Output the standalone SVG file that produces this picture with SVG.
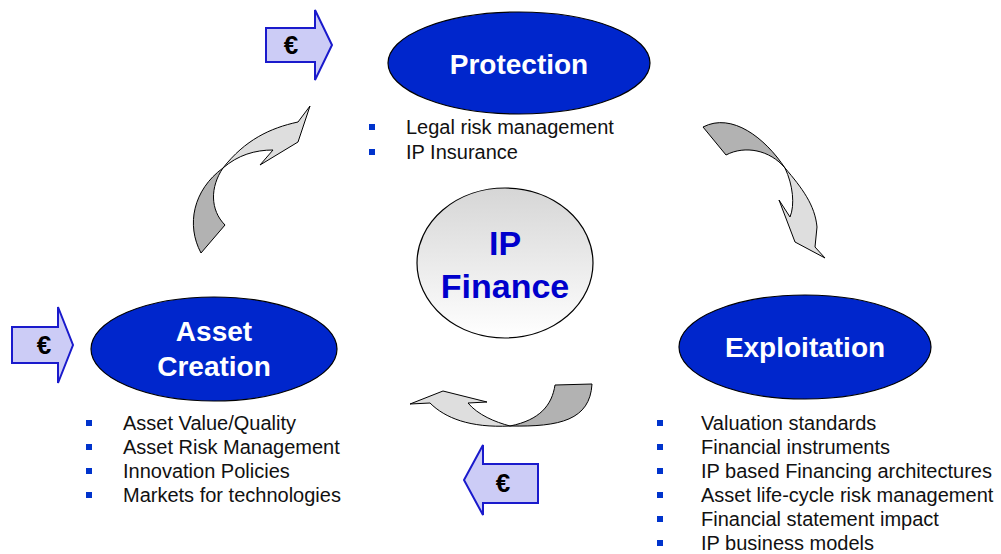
<svg xmlns="http://www.w3.org/2000/svg" width="1001" height="554" viewBox="0 0 1001 554">
<defs>
<linearGradient id="cg" x1="0" y1="0" x2="0" y2="1">
<stop offset="0" stop-color="#d6d6d6"/>
<stop offset="1" stop-color="#ffffff"/>
</linearGradient>
<style>
.ell{fill:#0026cc;stroke:#000;stroke-width:1.2}
.head{font-family:"Liberation Sans",Arial,sans-serif;font-weight:bold;font-size:28px;fill:#fff;text-anchor:middle}
.ipf{font-family:"Liberation Sans",Arial,sans-serif;font-weight:bold;font-size:34px;fill:#0000cc;text-anchor:middle}
.li{font-family:"Liberation Sans",Arial,sans-serif;font-size:20px;fill:#111}
.bul{fill:#0033cc}
.eur{fill:#ccccf6;stroke:#1a1acc;stroke-width:2;stroke-linejoin:miter}
.eurt{font-family:"Liberation Sans",Arial,sans-serif;font-weight:bold;font-size:26px;fill:#000;text-anchor:middle}
.dk{fill:#b2b2b2;stroke:#000;stroke-width:1}
.lt{fill:#dedede;stroke:#000;stroke-width:1}
</style>
</defs>
<rect width="1001" height="554" fill="#fff"/>
<g id="connectors">
<path class="dk" d="M201,253 C186,225 193,190 223,168 C210,187 210,210 225,225 Z"/>
<path class="lt" d="M223,168 C245,140 270,128 298,122 L310,106 L298,142 L260,165 L273,150 C255,150 238,155 223,168 Z"/>
<path class="dk" d="M703,127 C732,112 765,138 785,168 C770,150 745,145 726,155 Z"/>
<path class="lt" d="M785,168 C802,188 815,205 817,227 L815,247 L825,258 L795,242 L779,200 L790,217 C795,205 793,185 785,168 Z"/>
<path class="dk" d="M592,384 C590,420 560,427 510,426 C540,420 552,405 555,385 Z"/>
<path class="lt" d="M510,426 C470,428 445,418 430,403 L410,404 L443,391 L487,402 L468,403 C478,415 495,422 510,426 Z"/>
</g>
<g id="euro-top">
<polygon class="eur" points="266,28 315,28 315,10 332,45 315,80 315,62 266,62"/>
<text class="eurt" x="291" y="54">€</text>
</g>
<g id="euro-left">
<polygon class="eur" points="12,327 58,327 58,307 73,345 58,383 58,363 12,363"/>
<text class="eurt" x="44" y="354">€</text>
</g>
<g id="euro-bottom">
<polygon class="eur" points="538,464 483,464 483,445 464,480 483,515 483,503 538,503"/>
<text class="eurt" x="503" y="492">€</text>
</g>
<g id="protection">
<ellipse class="ell" cx="519" cy="63" rx="131" ry="51"/>
<text class="head" x="519" y="74">Protection</text>
<rect class="bul" x="369" y="124" width="6" height="6"/>
<rect class="bul" x="369" y="149" width="6" height="6"/>
<text class="li" x="406" y="134">Legal risk management</text>
<text class="li" x="406" y="159">IP Insurance</text>
</g>
<g id="ip-finance">
<ellipse cx="505" cy="263" rx="88" ry="75" fill="url(#cg)" stroke="#000" stroke-width="1.2"/>
<text class="ipf" x="505" y="255">IP</text>
<text class="ipf" x="505" y="298">Finance</text>
</g>
<g id="asset-creation">
<ellipse class="ell" cx="214" cy="349" rx="123" ry="52"/>
<text class="head" x="214" y="341">Asset</text>
<text class="head" x="214" y="376">Creation</text>
<rect class="bul" x="86" y="420" width="6" height="6"/>
<rect class="bul" x="86" y="444" width="6" height="6"/>
<rect class="bul" x="86" y="468" width="6" height="6"/>
<rect class="bul" x="86" y="492" width="6" height="6"/>
<text class="li" x="123" y="430">Asset Value/Quality</text>
<text class="li" x="123" y="454">Asset Risk Management</text>
<text class="li" x="123" y="478">Innovation Policies</text>
<text class="li" x="123" y="502">Markets for technologies</text>
</g>
<g id="exploitation">
<ellipse class="ell" cx="805" cy="347" rx="126" ry="52"/>
<text class="head" x="805" y="357">Exploitation</text>
<rect class="bul" x="657" y="420" width="6" height="6"/>
<rect class="bul" x="657" y="444" width="6" height="6"/>
<rect class="bul" x="657" y="468" width="6" height="6"/>
<rect class="bul" x="657" y="492" width="6" height="6"/>
<rect class="bul" x="657" y="516" width="6" height="6"/>
<rect class="bul" x="657" y="540" width="6" height="6"/>
<text class="li" x="701" y="430">Valuation standards</text>
<text class="li" x="701" y="454">Financial instruments</text>
<text class="li" x="701" y="478">IP based Financing architectures</text>
<text class="li" x="701" y="502">Asset life-cycle risk management</text>
<text class="li" x="701" y="526">Financial statement impact</text>
<text class="li" x="701" y="550">IP business models</text>
</g>
</svg>
